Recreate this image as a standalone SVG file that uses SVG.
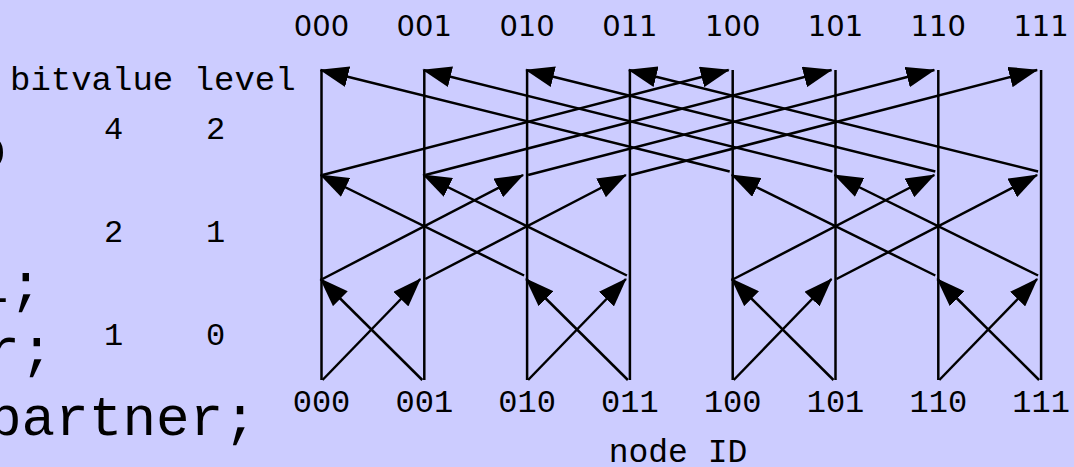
<svg xmlns="http://www.w3.org/2000/svg" width="1074" height="467" viewBox="0 0 1074 467">
<style>
.bg{fill:#ccccff}
.col{stroke:#000;stroke-width:2.5;fill:none}
.edge{stroke:#000;stroke-width:2.5;fill:none;marker-end:url(#ah)}
.top{font-family:"DejaVu Sans",sans-serif;font-size:29px;fill:#000;text-anchor:middle}
.bot{font-family:"Liberation Mono","Courier New",monospace;font-size:32px;fill:#000;text-anchor:middle}
.mono{font-family:"Liberation Mono","Courier New",monospace;fill:#000}
.code{font-family:"Liberation Mono","Courier New",monospace;font-size:56px;fill:#000}
</style>
<defs>
<marker id="ah" markerUnits="userSpaceOnUse" viewBox="0 0 29 21" markerWidth="29" markerHeight="21" refX="28" refY="10.5" orient="auto">
<path d="M0,0 L29,10.5 L0,21 z" fill="#000"/>
</marker>
</defs>
<rect class="bg" x="0" y="0" width="1074" height="467"/>
<g id="code-text">
<text class="code" x="-27" y="167">o</text>
<text class="code" x="-24.7" y="302">l;</text>
<text class="code" x="-13.7" y="367">r;</text>
<text class="code" x="-12" y="435">partner;</text>
</g>
<g id="legend">
<text class="mono" x="10" y="90" font-size="34">bitvalue level</text>
<g font-size="32" text-anchor="middle">
<text class="mono" x="113.5" y="139">4</text>
<text class="mono" x="215.5" y="139">2</text>
<text class="mono" x="113.5" y="242">2</text>
<text class="mono" x="215.5" y="242">1</text>
<text class="mono" x="113.5" y="345">1</text>
<text class="mono" x="215.5" y="345">0</text>
</g>
</g>
<g id="node-000"><line class="col" x1="321.5" y1="70" x2="321.5" y2="380"/><text class="top" x="321.5" y="36">000</text><text class="bot" x="321.5" y="412">000</text></g>
<g id="node-001"><line class="col" x1="424.3" y1="70" x2="424.3" y2="380"/><text class="top" x="424.3" y="36">001</text><text class="bot" x="424.3" y="412">001</text></g>
<g id="node-010"><line class="col" x1="527.1" y1="70" x2="527.1" y2="380"/><text class="top" x="527.1" y="36">010</text><text class="bot" x="527.1" y="412">010</text></g>
<g id="node-011"><line class="col" x1="629.9" y1="70" x2="629.9" y2="380"/><text class="top" x="629.9" y="36">011</text><text class="bot" x="629.9" y="412">011</text></g>
<g id="node-100"><line class="col" x1="732.7" y1="70" x2="732.7" y2="380"/><text class="top" x="732.7" y="36">100</text><text class="bot" x="732.7" y="412">100</text></g>
<g id="node-101"><line class="col" x1="835.5" y1="70" x2="835.5" y2="380"/><text class="top" x="835.5" y="36">101</text><text class="bot" x="835.5" y="412">101</text></g>
<g id="node-110"><line class="col" x1="938.3" y1="70" x2="938.3" y2="380"/><text class="top" x="938.3" y="36">110</text><text class="bot" x="938.3" y="412">110</text></g>
<g id="node-111"><line class="col" x1="1041.1" y1="70" x2="1041.1" y2="380"/><text class="top" x="1041.1" y="36">111</text><text class="bot" x="1041.1" y="412">111</text></g>
<text id="axis-label" class="mono" x="678" y="462" font-size="33" text-anchor="middle">node ID</text>
<g id="connectors">
<line class="edge" x1="322.5" y1="380" x2="420.3" y2="279"/>
<line class="edge" x1="422.3" y1="380" x2="320.5" y2="279"/>
<line class="edge" x1="528.1" y1="380" x2="625.9" y2="279"/>
<line class="edge" x1="627.9" y1="380" x2="526.1" y2="279"/>
<line class="edge" x1="733.7" y1="380" x2="831.5" y2="279"/>
<line class="edge" x1="833.5" y1="380" x2="731.7" y2="279"/>
<line class="edge" x1="939.3" y1="380" x2="1037.1" y2="279"/>
<line class="edge" x1="1039.1" y1="380" x2="937.3" y2="279"/>
<line class="edge" x1="322.5" y1="279" x2="523.1" y2="175"/>
<line class="edge" x1="425.3" y1="279" x2="625.9" y2="175"/>
<line class="edge" x1="524.1" y1="275.5" x2="320.5" y2="175"/>
<line class="edge" x1="626.9" y1="275.5" x2="423.3" y2="175"/>
<line class="edge" x1="733.7" y1="279" x2="934.3" y2="175"/>
<line class="edge" x1="836.5" y1="279" x2="1037.1" y2="175"/>
<line class="edge" x1="935.3" y1="275.5" x2="731.7" y2="175"/>
<line class="edge" x1="1038.1" y1="275.5" x2="834.5" y2="175"/>
<line class="edge" x1="322.5" y1="175" x2="728.7" y2="70"/>
<line class="edge" x1="425.3" y1="175" x2="831.5" y2="70"/>
<line class="edge" x1="528.1" y1="175" x2="934.3" y2="70"/>
<line class="edge" x1="630.9" y1="175" x2="1037.1" y2="70"/>
<line class="edge" x1="729.7" y1="171.5" x2="320.5" y2="70"/>
<line class="edge" x1="832.5" y1="171.5" x2="423.3" y2="70"/>
<line class="edge" x1="935.3" y1="171.5" x2="526.1" y2="70"/>
<line class="edge" x1="1038.1" y1="171.5" x2="628.9" y2="70"/>
</g>
</svg>
